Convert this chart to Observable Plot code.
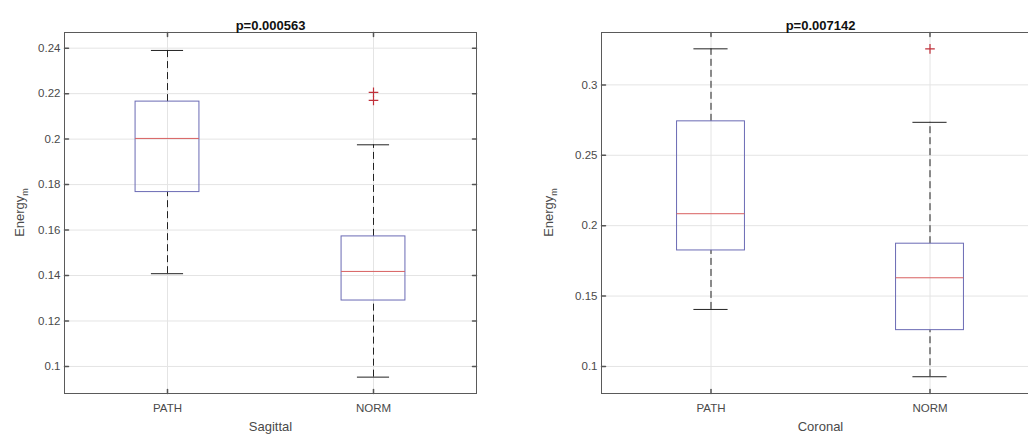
<!DOCTYPE html>
<html><head><meta charset="utf-8">
<script src="https://cdn.jsdelivr.net/npm/d3@7"></script>
<script src="https://cdn.jsdelivr.net/npm/@observablehq/plot@0.6"></script>
<style>
html,body{margin:0;padding:0;background:#fff;overflow:hidden;width:1028px;height:438px;}
#wrap{position:relative;width:1028px;height:438px;overflow:hidden;}
.panel{position:absolute;top:0;}
.panel svg{max-width:none !important;}
</style></head><body><div id="wrap"></div>
<script>
// ---- data ----
const categories = ["PATH", "NORM"];
const positions = [1, 2];

// Sagittal panel
const sagTitle = "p=0.000563";
const sagXLabel = "Sagittal";
const sagLow  = [0.1408, 0.0953];
const sagQ1   = [0.1767, 0.1290];
const sagMed  = [0.2003, 0.1418];
const sagQ3   = [0.2165, 0.1572];
const sagHigh = [0.2390, 0.1975];
const sagOutCat = ["NORM", "NORM"];
const sagOutVal = [0.2206, 0.2170];
const sagTicks = [0.1, 0.12, 0.14, 0.16, 0.18, 0.2, 0.22, 0.24];
const sagDomain = [0.0881, 0.2469];

// Coronal panel
const corTitle = "p=0.007142";
const corXLabel = "Coronal";
const corLow  = [0.1405, 0.0927];
const corQ1   = [0.1824, 0.1258];
const corMed  = [0.2085, 0.1630];
const corQ3   = [0.2741, 0.1872];
const corHigh = [0.3256, 0.2734];
const corOutCat = ["NORM"];
const corOutVal = [0.3256];
const corTicks = [0.1, 0.15, 0.2, 0.25, 0.3];
const corDomain = [0.0808, 0.3372];

const yLabelMain = "Energy";
const yLabelSub = "m";

// ---- drawing ----
const BOX_HW = 0.155, CAP_HW = 0.078;
const tickShape = {draw(ctx, l) { ctx.moveTo(0, 0); ctx.lineTo(0, -l); }};

function panel(cfg) {
  const stats = categories.map((c, i) => ({
    cat: c, pos: positions[i], low: cfg.low[i], q1: cfg.q1[i], med: cfg.med[i], q3: cfg.q3[i], high: cfg.high[i]
  }));
  const outs = cfg.outCat.map((c, i) => ({pos: positions[categories.indexOf(c)], value: cfg.outVal[i]}));
  const fmt = d => categories[positions.indexOf(d)];
  const svg = Plot.plot({
    width: cfg.width, height: 438,
    marginLeft: cfg.ml, marginRight: cfg.mr, marginTop: 32, marginBottom: 45,
    style: {fontFamily: "'Liberation Sans', Arial, sans-serif", fontSize: "11.5px", color: "#4a4a4a", background: "#fff", maxWidth: "none"},
    x: {domain: [0.5, 2.5], axis: null},
    y: {domain: cfg.domain, axis: null},
    marks: [
      Plot.ruleY(cfg.ticks, {stroke: "#e4e4e4"}),
      Plot.ruleX(positions, {stroke: "#e4e4e4"}),
      Plot.axisY(cfg.ticks, {tickSize: 0, tickPadding: 4, label: null, tickFormat: d => String(+d.toFixed(2))}),
      Plot.axisX(positions, {tickSize: 0, tickPadding: 10, label: null, tickFormat: fmt}),
      // inward ticks
      Plot.vector(cfg.ticks, {x: 0.5, y: d => d, length: 4, rotate: 90, anchor: "start", shape: tickShape, stroke: "#555"}),
      Plot.vector(cfg.ticks, {x: 2.5, y: d => d, length: 4, rotate: -90, anchor: "start", shape: tickShape, stroke: "#555"}),
      Plot.vector(positions, {x: d => d, y: cfg.domain[0], length: 4, rotate: 0, anchor: "start", shape: tickShape, stroke: "#555"}),
      Plot.vector(positions, {x: d => d, y: cfg.domain[1], length: 4, rotate: 180, anchor: "start", shape: tickShape, stroke: "#555"}),
      // whiskers
      Plot.ruleX(stats, {x: "pos", y1: "q3", y2: "high", stroke: "#222", strokeDasharray: "7,4"}),
      Plot.ruleX(stats, {x: "pos", y1: "low", y2: "q1", stroke: "#222", strokeDasharray: "7,4"}),
      Plot.ruleY(stats, {y: "high", x1: d => d.pos - CAP_HW, x2: d => d.pos + CAP_HW, stroke: "#222"}),
      Plot.ruleY(stats, {y: "low", x1: d => d.pos - CAP_HW, x2: d => d.pos + CAP_HW, stroke: "#222"}),
      // box
      Plot.rect(stats, {x1: d => d.pos - BOX_HW, x2: d => d.pos + BOX_HW, y1: "q1", y2: "q3", fill: "none", stroke: "#6a6ab4"}),
      Plot.ruleY(stats, {y: "med", x1: d => d.pos - BOX_HW, x2: d => d.pos + BOX_HW, stroke: "#d86060"}),
      // outliers
      Plot.dot(outs, {x: "pos", y: "value", symbol: "plus", r: 3.2, stroke: "#c0303a", strokeWidth: 1.2}),
      Plot.frame({stroke: "#5a5a5a"}),
      Plot.text([cfg.title], {frameAnchor: "top", dy: -12, fontWeight: "bold", fontSize: 13, fill: "#111"}),
      Plot.text([cfg.xlabel], {frameAnchor: "bottom", dy: 37, fontSize: 13, fill: "#4a4a4a"})
    ]
  });
  svg.style.maxWidth = "none";
  const s = d3.select(svg);
  const t = s.append("text")
    .attr("transform", `translate(${cfg.ylx},${(32 + 393) / 2}) rotate(-90)`)
    .attr("text-anchor", "middle")
    .attr("font-size", 13).attr("fill", "#4a4a4a")
    .attr("font-family", "'Liberation Sans', Arial, sans-serif");
  t.append("tspan").text(yLabelMain);
  t.append("tspan").attr("dy", 4).attr("font-size", 9).text(yLabelSub);
  const d = document.createElement("div");
  d.className = "panel";
  d.style.left = cfg.left + "px";
  d.style.width = cfg.width + "px";
  d.appendChild(svg);
  document.getElementById("wrap").appendChild(d);
}

panel({left: 0, width: 510, ml: 64, mr: 34, title: sagTitle, xlabel: sagXLabel,
  low: sagLow, q1: sagQ1, med: sagMed, q3: sagQ3, high: sagHigh, outCat: sagOutCat, outVal: sagOutVal,
  ticks: sagTicks, domain: sagDomain, ylx: 23.5});
panel({left: 510, width: 540, ml: 91, mr: 11, title: corTitle, xlabel: corXLabel,
  low: corLow, q1: corQ1, med: corMed, q3: corQ3, high: corHigh, outCat: corOutCat, outVal: corOutVal,
  ticks: corTicks, domain: corDomain, ylx: 42.5});
</script>
</body></html>
